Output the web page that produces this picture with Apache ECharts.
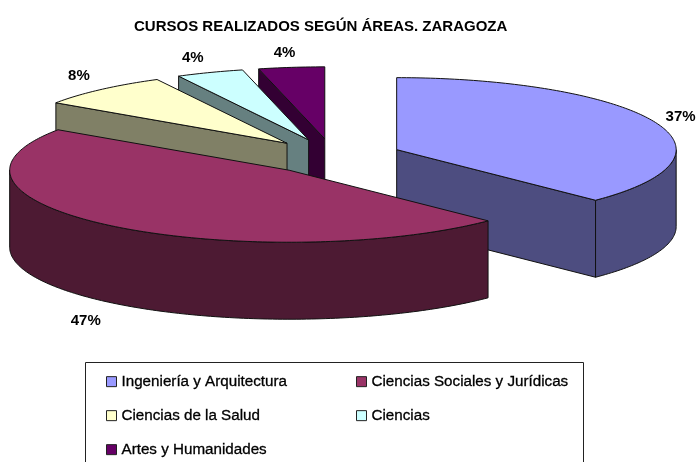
<!DOCTYPE html>
<html>
<head>
<meta charset="utf-8">
<style>html,body{margin:0;padding:0;background:#fff}#c{width:699px;height:462px}</style>
<script src="https://cdn.jsdelivr.net/npm/echarts@6/dist/echarts.min.js"></script>
</head>
<body>
<div id="c"></div>
<script>
const categories = ['Ingeniería y Arquitectura','Ciencias Sociales y Jurídicas','Ciencias de la Salud','Ciencias','Artes y Humanidades'];
const values = [37.4, 47.1, 7.8, 3.9, 3.8];
const topColors = ['#9999FF','#993366','#FFFFCC','#CCFFFF','#660066'];
const sideColors = ['#4D4D80','#4D1A33','#808066','#668080','#330033'];
const drawOrder = [3, 4, 2, 1, 0]; // z per slice: back slices first, the big front slice last
const labelNudge = [[26,-5.5],[-26,18.5],[-22,-13.5],[-17,-14.5],[-7,-14.5]];
const legendCells = [[106,374],[356,374],[106,408],[356,408],[106,442]];

const geo = {cx:333, cy:156.5, rx:279.5, ry:72, depth:77, explode:69};
const rad = d => d*Math.PI/180;
const total = values.reduce((a,b)=>a+b,0);
let acc = 0;
const slices = values.map(v => { const s = acc/total*360; acc += v; return {start:s, end:acc/total*360}; });

function point(ax, ay, deg, dz){
  return [ax + geo.rx*Math.sin(rad(deg)), ay - geo.ry*Math.cos(rad(deg)) + (dz||0)];
}
function arc(ax, ay, a, b, dz){
  const pts = [], n = Math.max(2, Math.ceil(Math.abs(b-a)));
  for(let i=0;i<=n;i++) pts.push(point(ax, ay, a+(b-a)*i/n, dz));
  return pts;
}
function sliceRender(i){
  return function(){
    const s = slices[i], mid = (s.start+s.end)/2;
    const ax = geo.cx + geo.explode*Math.sin(rad(mid));
    const ay = geo.cy - geo.explode*(geo.ry/geo.rx)*Math.cos(rad(mid));
    const children = [];
    const poly = (points, fill) => children.push({type:'polygon', shape:{points}, style:{fill, stroke:'#111', lineWidth:1, lineJoin:'round'}});
    const radial = deg => {
      const p = point(ax, ay, deg);
      poly([[ax,ay],p,[p[0],p[1]+geo.depth],[ax,ay+geo.depth]], sideColors[i]);
    };
    const sinS = Math.sin(rad(s.start)), sinE = Math.sin(rad(s.end));
    if(sinE > 1e-6) radial(s.end);
    if(sinS < -1e-6) radial(s.start);
    const a = Math.max(s.start, 90), b = Math.min(s.end, 270);
    if(b > a){
      const top = arc(ax, ay, a, b, 0), bot = arc(ax, ay, b, a, geo.depth);
      poly(top.concat(bot), sideColors[i]);
    }
    poly([[ax,ay]].concat(arc(ax, ay, s.start, s.end, 0)), topColors[i]);
    const bottomRim = Math.cos(rad(mid)) < 0 ? geo.depth : 0;
    const lp = point(ax, ay, mid, bottomRim);
    children.push({type:'text', style:{
      text: Math.round(values[i]/total*100)+'%',
      x: lp[0]+labelNudge[i][0], y: lp[1]+labelNudge[i][1],
      align:'center', verticalAlign:'middle',
      font:'bold 15px "Liberation Sans", Arial, sans-serif', fill:'#000'
    }});
    return {type:'group', children};
  };
}

const chart = echarts.init(document.getElementById('c'), null, {renderer:'canvas'});
chart.setOption({
  animation:false,
  backgroundColor:'#fff',
  title:{text:'CURSOS REALIZADOS SEGÚN ÁREAS. ZARAGOZA', left:134, top:19, padding:0,
    textStyle:{fontFamily:'"Liberation Sans", Arial, sans-serif', fontWeight:'bold', fontSize:15, color:'#000'}},
  legend: categories.map((name,i)=>({
    data:[name], left:legendCells[i][0], top:legendCells[i][1], padding:0,
    icon:'rect', itemWidth:10, itemHeight:10, selectedMode:false,
    itemStyle:{borderColor:'#222', borderWidth:1},
    textStyle:{fontFamily:'"Liberation Sans", Arial, sans-serif', fontSize:15.2, color:'#000', textBorderColor:'#000', textBorderWidth:0.3}
  })),
  graphic:[{type:'rect', shape:{x:85.5,y:362.5,width:498,height:120}, style:{fill:'#fff',stroke:'#222',lineWidth:1}, z:-1}],
  series: categories.map((name,i)=>({
    type:'custom', name, coordinateSystem:'none', clip:false, z:drawOrder[i]+2, silent:true,
    itemStyle:{color:topColors[i]},
    data:[[values[i]]],
    renderItem:sliceRender(i)
  }))
});
</script>
</body>
</html>
